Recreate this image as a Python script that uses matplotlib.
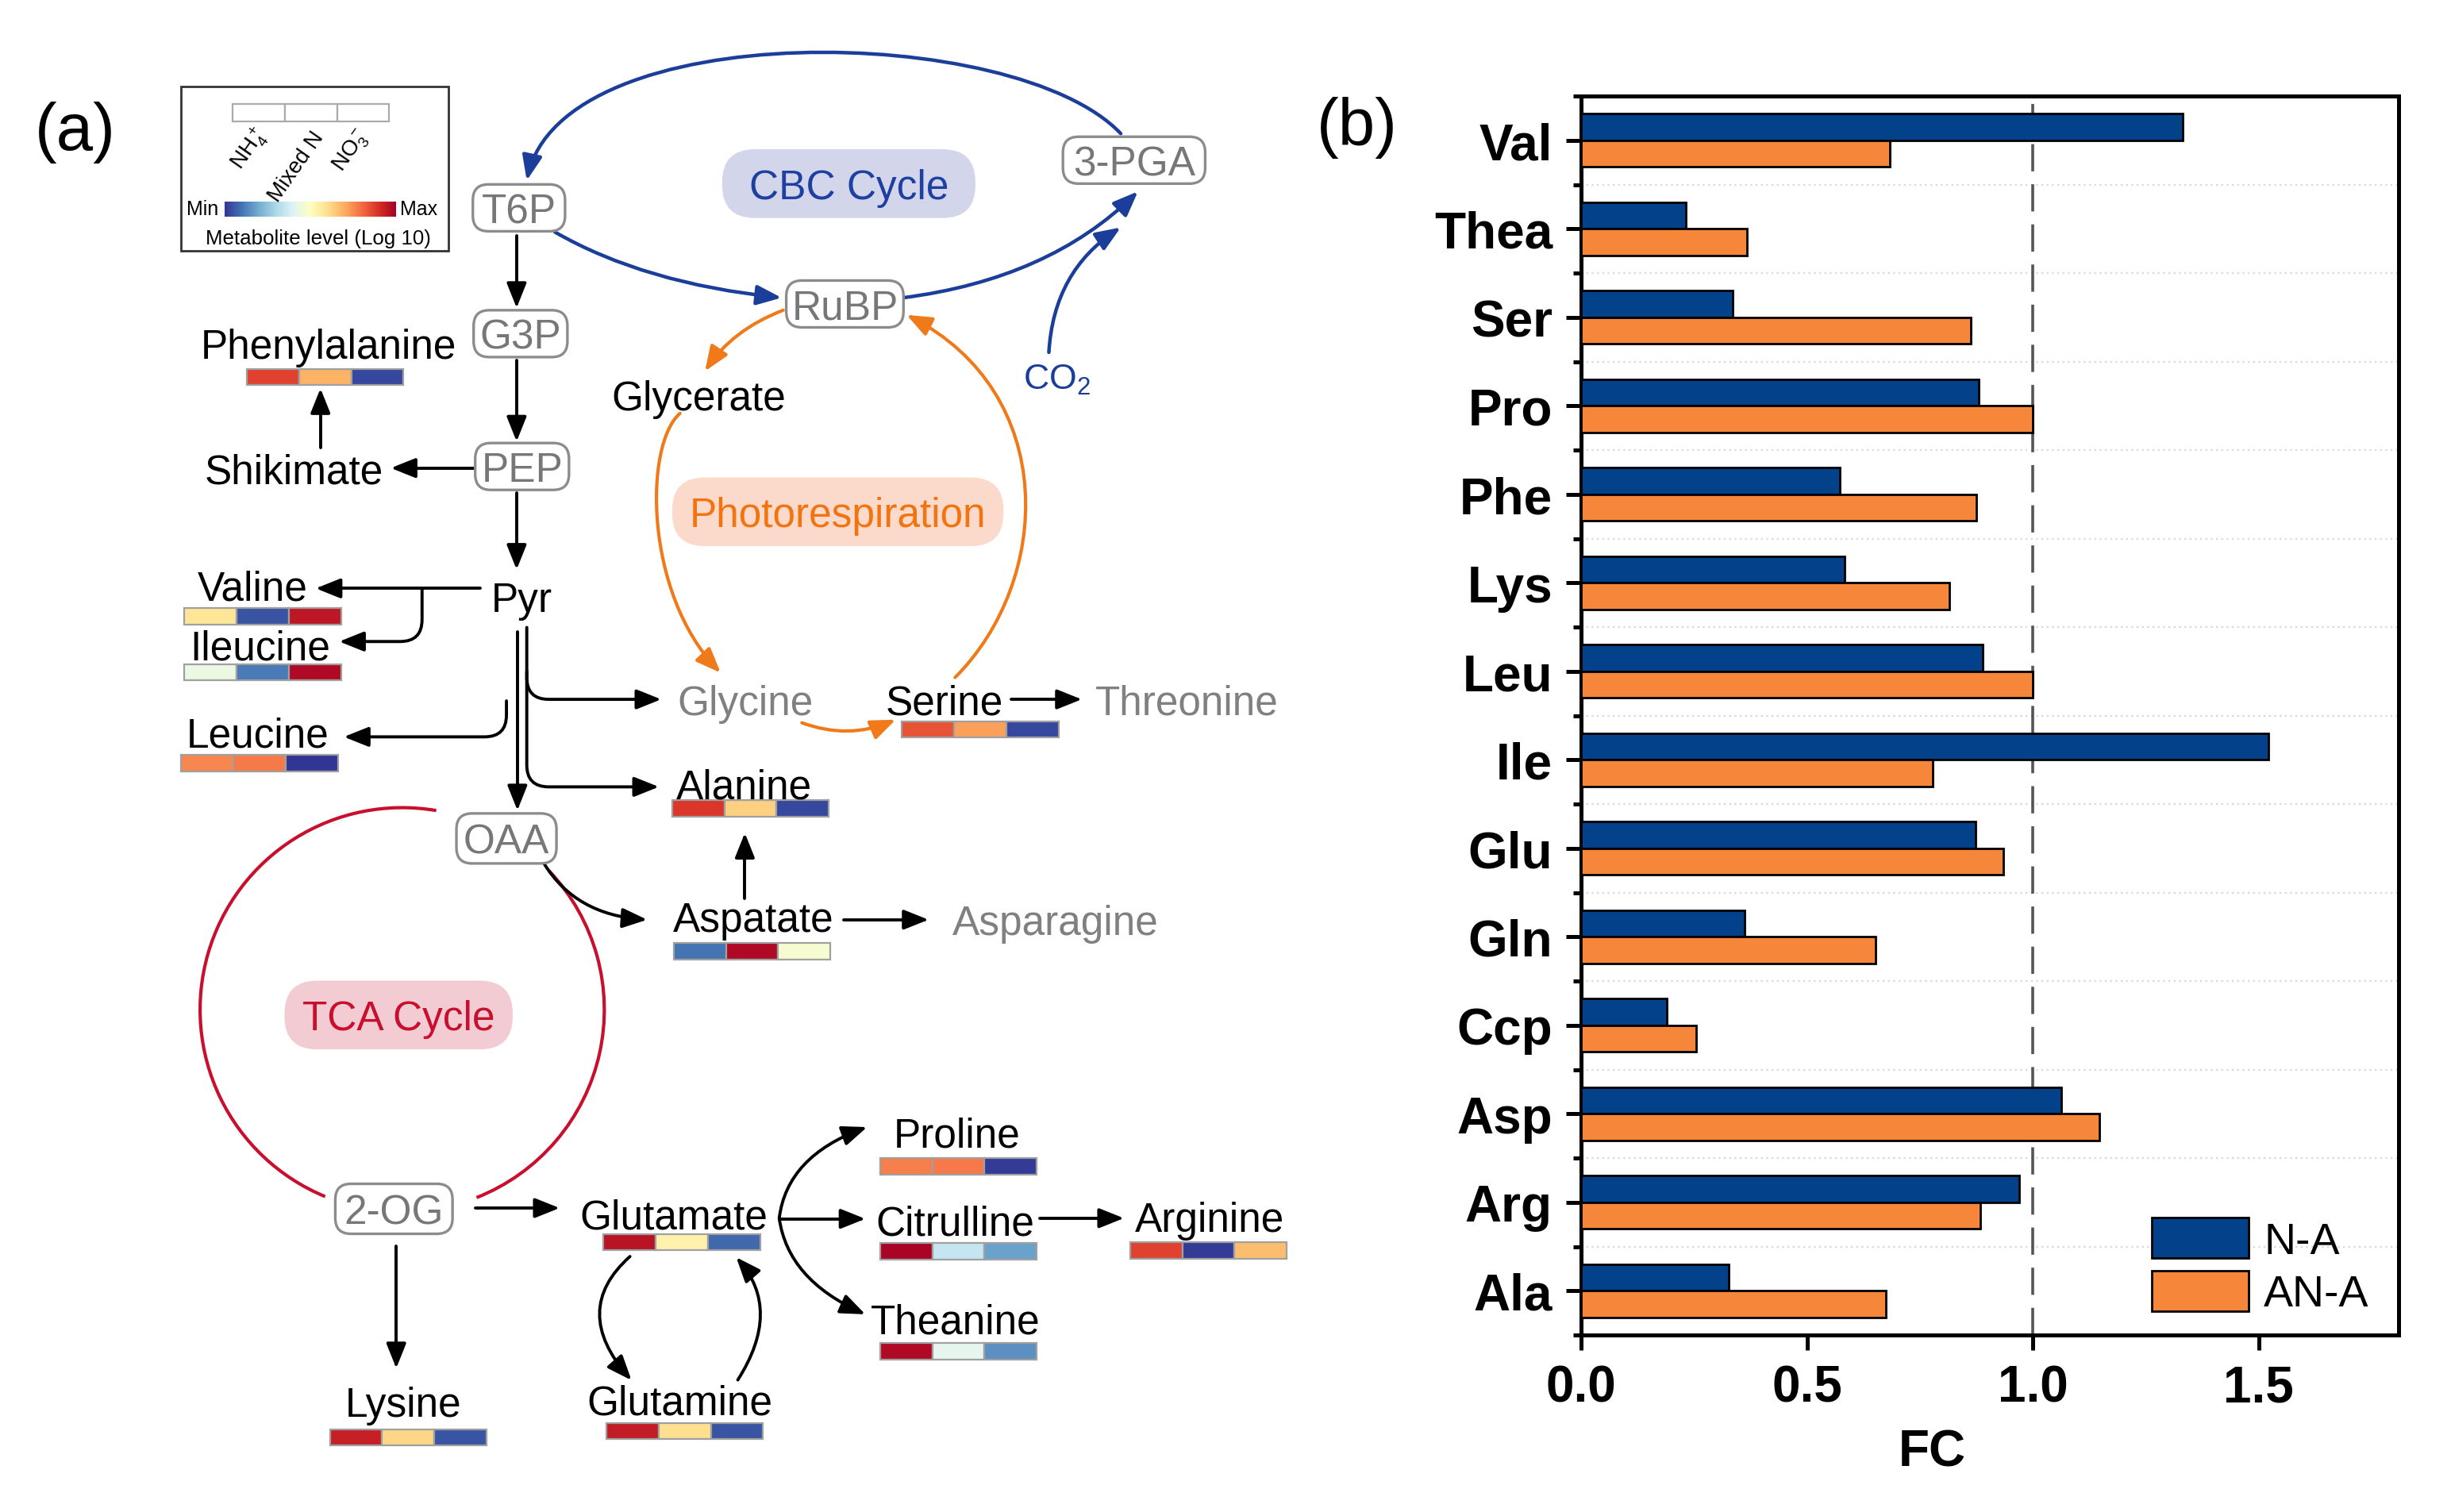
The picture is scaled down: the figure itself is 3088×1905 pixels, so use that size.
import numpy as np
import matplotlib
matplotlib.use("Agg")
import matplotlib.pyplot as plt
from matplotlib.patches import FancyArrowPatch, FancyBboxPatch, Rectangle, Arc
from matplotlib.path import Path

plt.rcParams['font.family'] = ['Liberation Sans', 'DejaVu Sans']
plt.rcParams['mathtext.default'] = 'regular'

# (b) fold change of amino acids
amino = ['Val', 'Thea', 'Ser', 'Pro', 'Phe', 'Lys', 'Leu', 'Ile', 'Glu', 'Gln', 'Ccp', 'Asp', 'Arg', 'Ala']
fc_na = [1.332, 0.232, 0.336, 0.880, 0.573, 0.584, 0.890, 1.522, 0.874, 0.362, 0.190, 1.064, 0.970, 0.327]
fc_ana = [0.683, 0.368, 0.862, 1.000, 0.876, 0.816, 1.000, 0.778, 0.934, 0.652, 0.254, 1.147, 0.884, 0.675]

# (a) metabolite level (0 = min, 1 = max) for NH4+, Mixed N, NO3-
metab = ['Phenylalanine', 'Valine', 'Ileucine', 'Leucine', 'Serine', 'Alanine', 'Aspatate',
         'Glutamate', 'Glutamine', 'Lysine', 'Proline', 'Citrulline', 'Arginine', 'Theanine']
lvl_nh4 = [0.87, 0.58, 0.44, 0.76, 0.84, 0.89, 0.10, 0.96, 0.94, 0.93, 0.77, 0.99, 0.87, 0.98]
lvl_mix = [0.69, 0.05, 0.11, 0.78, 0.72, 0.63, 0.98, 0.54, 0.60, 0.62, 0.78, 0.35, 0.01, 0.42]
lvl_no3 = [0.03, 0.95, 0.98, 0.00, 0.03, 0.03, 0.47, 0.08, 0.05, 0.05, 0.01, 0.18, 0.67, 0.15]

# where each metabolite sits in the diagram: text centre, heat strip top-left
layout = {
    'Phenylalanine': (210, 220, 158, 236.5),
    'Valine': (161.5, 375, 118, 389.5),
    'Ileucine': (166.5, 413, 118, 425.5),
    'Leucine': (165, 469, 116, 483.5),
    'Serine': (604, 448, 577, 462),
    'Alanine': (476, 502, 430, 512.5),
    'Aspatate': (482, 587, 431, 604),
    'Glutamate': (431, 777, 386, 790),
    'Glutamine': (435, 896, 388, 911),
    'Lysine': (258, 897, 211, 915),
    'Proline': (612, 725, 563, 741.5),
    'Citrulline': (611, 781, 563, 796),
    'Arginine': (774, 779, 723, 795.5),
    'Theanine': (611, 844, 563, 860),
}

BLUE = '#1b3e9a'
ORANGE = '#f07a1a'
RED = '#c8102e'
cmap = plt.get_cmap('RdYlBu_r')

fig = plt.figure(figsize=(15.44, 9.53), dpi=200)
ax = fig.add_axes([0, 0, 1, 1])
ax.set_axis_off()


def node(x, y, w, h, label):
    ax.add_patch(FancyBboxPatch((x - w / 2, y - h / 2), w, h, boxstyle='round,pad=0,rounding_size=10',
                                fc='white', ec='#8c8c8c', lw=1.2, zorder=3))
    ax.text(x, y + 2.5, label, color='#777777', fontsize=18.5, ha='center', va='center', zorder=4)


def pill(x, y, w, h, fc, label, tc):
    ax.add_patch(FancyBboxPatch((x - w / 2, y - h / 2), w, h, boxstyle='round,pad=0,rounding_size=21',
                                fc=fc, ec='none', zorder=1))
    ax.text(x, y + 2.5, label, color=tc, fontsize=18.5, ha='center', va='center', zorder=2)


def arrow(verts, codes=None, color='black', lw=1.4):
    if codes is None:
        codes = [Path.MOVETO] + [Path.LINETO] * (len(verts) - 1)
    ax.add_patch(FancyArrowPatch(path=Path(verts, codes), arrowstyle='-|>,head_length=0.95,head_width=0.38',
                                 mutation_scale=10, color=color, lw=lw, zorder=2))


def curve(s, m, e, color='black', lw=1.4):
    # quadratic bezier passing through m at its middle
    c = (2 * m[0] - (s[0] + e[0]) / 2, 2 * m[1] - (s[1] + e[1]) / 2)
    arrow([s, c, e], [Path.MOVETO, Path.CURVE3, Path.CURVE3], color, lw)


def cubic(s, c1, c2, e, color='black', lw=1.4):
    arrow([s, c1, c2, e], [Path.MOVETO, Path.CURVE4, Path.CURVE4, Path.CURVE4], color, lw)


def bend(pts, color='black'):
    # line with one rounded corner: start, corner, end
    (x0, y0), (xc, yc), (x1, y1) = pts
    r = 14
    dx0 = np.sign(xc - x0); dy0 = np.sign(yc - y0)
    dx1 = np.sign(x1 - xc); dy1 = np.sign(y1 - yc)
    a = (xc - dx0 * r, yc - dy0 * r)
    b = (xc + dx1 * r, yc + dy1 * r)
    arrow([(x0, y0), a, (xc, yc), b, (x1, y1)],
          [Path.MOVETO, Path.LINETO, Path.CURVE3, Path.CURVE3, Path.LINETO], color)


# metabolite names with heat strips
for i, name in enumerate(metab):
    tx, ty, hx, hy = layout[name]
    ax.text(tx, ty + 2.5, name, fontsize=18.5, ha='center', va='center', zorder=4)
    for j, v in enumerate([lvl_nh4[i], lvl_mix[i], lvl_no3[i]]):
        ax.add_patch(Rectangle((hx + j * 33.4, hy), 33.4, 10.5, fc=cmap(v), ec='#a0a0a0', lw=0.8, zorder=3))

# other labels
ax.text(447, 255.5, 'Glycerate', fontsize=18.5, ha='center', va='center')
ax.text(334, 384.5, 'Pyr', fontsize=18.5, ha='center', va='center')
ax.text(188, 302.5, 'Shikimate', fontsize=18.5, ha='center', va='center')
ax.text(477, 450.5, 'Glycine', fontsize=18.5, color='#808080', ha='center', va='center')
ax.text(759, 450.5, 'Threonine', fontsize=18.5, color='#808080', ha='center', va='center')
ax.text(675, 591.5, 'Asparagine', fontsize=18.5, color='#808080', ha='center', va='center')
ax.text(676, 243, 'CO$_2$', fontsize=16, color=BLUE, ha='center', va='center')

node(332, 133.5, 59, 30, 'T6P')
node(333, 214, 60, 30, 'G3P')
node(334, 299, 60, 30, 'PEP')
node(540.5, 195, 75, 30, 'RuBP')
node(725.5, 103, 91, 30, '3-PGA')
node(324, 537, 64, 32, 'OAA')
node(252, 774, 75, 32, '2-OG')

pill(543, 118, 162, 44, '#d3d5ea', 'CBC Cycle', '#1e40a0')
pill(536, 328, 212, 44, '#fbdacb', 'Photorespiration', '#f3740f')
pill(255, 650, 146, 44, '#f3cbd2', 'TCA Cycle', RED)

# black pathway arrows
arrow([(330.5, 151.5), (330.5, 197.5)])
arrow([(330.5, 231), (330.5, 283)])
arrow([(330.5, 316), (330.5, 365)])
arrow([(303, 300), (250, 300)])
arrow([(205, 287), (205, 249)])
arrow([(307, 377), (202, 377)])
bend([(270, 377), (270, 411), (217, 411)])
bend([(324, 449), (324, 472), (220, 472)])
arrow([(331, 405), (331, 519)])
bend([(337, 402), (337, 448), (423, 448)])
bend([(337, 430), (337, 504), (421.5, 504)])
arrow([(647, 448), (692, 448)])
arrow([(476.5, 575.5), (476.5, 533.5)])
curve((348, 553), (374.6, 578.5), (414, 589))
arrow([(540, 589), (594, 589)])
arrow([(304, 773.5), (358, 773.5)])
arrow([(253.5, 798), (253.5, 876)])
arrow([(498.5, 780.4), (553.6, 780.4)])
curve((498.5, 780), (515, 745.6), (554.7, 721.7))
curve((498.5, 780), (515, 815), (553.6, 841.5))
arrow([(665, 780), (719, 780)])
curve((403, 804.5), (384, 841.5), (404, 883.7))
curve((472, 883.5), (486, 841.5), (471, 805))

# CBC cycle
cubic((717, 86), (650, 15), (360, 10), (337, 116), BLUE, 1.6)
curve((355, 149), (420, 176), (500, 191), BLUE, 1.6)
curve((578, 191), (662, 168), (728, 123), BLUE, 1.6)
curve((671, 226), (684, 180), (717, 146), BLUE, 1.6)

# photorespiration
curve((501, 199), (472.3, 215), (451, 238), ORANGE, 1.5)
cubic((435, 265), (412, 285), (412, 380), (461, 431), ORANGE, 1.5)
cubic((611, 434), (673, 372), (678, 252), (580, 202), ORANGE, 1.5)
curve((513, 463), (543, 468), (573, 461), ORANGE, 1.5)

# TCA cycle
ax.add_patch(Arc((257.3, 646.6), 258.6, 258.6, theta1=112.4, theta2=279.7, color=RED, lw=1.5))
ax.add_patch(Arc((257.3, 646.6), 258.6, 258.6, theta1=-43.4, theta2=68.4, color=RED, lw=1.5))

# colour key
ax.add_patch(Rectangle((115.8, 55.9), 171.2, 105.1, fc='white', ec='#333333', lw=1.0))
for j in range(3):
    ax.add_patch(Rectangle((148.8 + j * 33.4, 67), 33.4, 11.2, fc='white', ec='#aaaaaa', lw=0.8))
ax.imshow(np.linspace(0, 1, 256)[None, :], cmap=cmap, extent=[143.7, 252.9, 139, 129.5], aspect='auto', zorder=2)
ax.text(160, 95.6, 'NH$_4^+$', rotation=55, fontsize=10, ha='center', va='center')
ax.text(189.5, 106.7, 'Mixed N', rotation=55, fontsize=10, ha='center', va='center')
ax.text(225, 96.5, 'NO$_3^-$', rotation=55, fontsize=10, ha='center', va='center')
ax.text(129.5, 134, 'Min', fontsize=9, ha='center', va='center')
ax.text(268, 134, 'Max', fontsize=9, ha='center', va='center')
ax.text(203.5, 153, 'Metabolite level (Log 10)', fontsize=9.3, ha='center', va='center')

ax.text(48, 85, '(a)', fontsize=30, ha='center', va='center')
ax.text(868, 82, '(b)', fontsize=30, ha='center', va='center')

ax.set_xlim(0, 1568)
ax.set_ylim(968, 0)

# (b) bar chart
axb = fig.add_axes([1992 / 3088, 1 - 1683 / 1906, (3022 - 1992) / 3088, (1683 - 122) / 1906])
y = np.arange(len(amino))[::-1]
axb.barh(y + 0.15, fc_na, height=0.3, color='#03428b', edgecolor='black', lw=1.0, label='N-A', zorder=3)
axb.barh(y - 0.15, fc_ana, height=0.3, color='#f5863a', edgecolor='black', lw=1.0, label='AN-A', zorder=3)
axb.axvline(1.0, color='#555555', lw=1.3, ls=(0, (9.5, 4.5)), zorder=2)
axb.set_xlim(0, 1.81)
axb.set_ylim(-0.5, 13.5)
axb.set_yticks(y)
axb.set_yticklabels(amino, fontsize=23, fontweight='bold')
axb.set_yticks(np.arange(-0.5, 14, 1), minor=True)
axb.set_xticks([0, 0.5, 1.0, 1.5])
axb.set_xticklabels(['0.0', '0.5', '1.0', '1.5'], fontsize=23, fontweight='bold')
axb.grid(axis='y', which='minor', ls=(0, (1, 2)), color='#d8d8d8', lw=0.8, zorder=1)
axb.tick_params(axis='both', which='major', length=7, width=1.8, pad=6)
axb.tick_params(axis='y', which='minor', length=3.5, width=1.8)
for s in axb.spines.values():
    s.set_linewidth(1.8)
axb.set_xlabel('FC', fontsize=23, fontweight='bold')
axb.xaxis.set_label_coords(0.429, -0.075)
axb.legend(loc='upper left', bbox_to_anchor=(0.698, 0.0948), frameon=False, fontsize=20,
           handlelength=2.2, handleheight=1.04, labelspacing=0.18, handletextpad=0.34,
           borderpad=0, borderaxespad=0)

fig.savefig('out.png', dpi=200)
